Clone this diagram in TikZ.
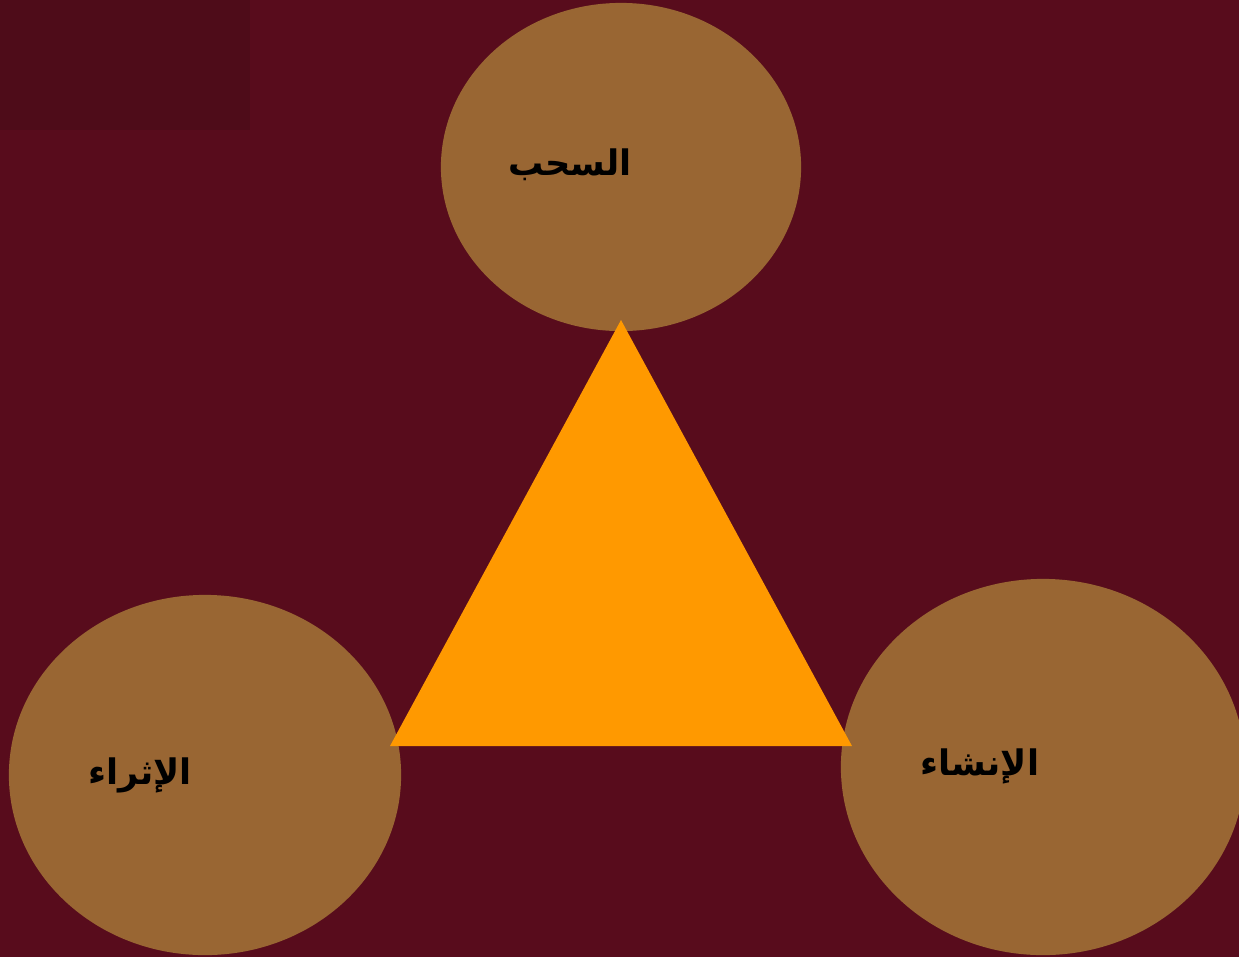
\documentclass[tikz,border=0pt]{standalone}
\usepackage{fontspec}
\newfontfamily\arabicfont[Script=Arabic]{DejaVu Sans}
\TeXXeTstate=1
\definecolor{bgred}{RGB}{88,12,28}
\definecolor{bgdark}{RGB}{60,14,22}
\definecolor{ovalbrown}{RGB}{153,102,51}
\definecolor{triorange}{RGB}{255,153,0}
\usetikzlibrary{shapes.geometric}

\begin{document}
\begin{tikzpicture}[
  x=0.01cm,y=-0.01cm,
  oval/.style={ellipse,fill=ovalbrown,inner sep=0pt},
  word/.style={font=\arabicfont\bfseries\fontsize{10}{12}\selectfont,text=black},
]
  % Background
  \fill[bgred] (0,0) rectangle (1239,957);
  \fill[bgdark,opacity=0.35] (0,0) rectangle (250,130);
  \useasboundingbox (0,0) rectangle (1239,957);

  % Ovals
  \node[oval,minimum width=3.6cm,minimum height=3.28cm] (sahb) at (621,167) {};
  \node[oval,minimum width=3.92cm,minimum height=3.6cm] (ithraa) at (205,775) {};
  \node[oval,minimum width=4.04cm,minimum height=3.76cm] (inshaa) at (1043,767) {};

  % Triangle
  \coordinate (apex) at (621,320);
  \coordinate (baseL) at (390,746);
  \coordinate (baseR) at (852,746);
  \fill[triorange] (apex) -- (baseR) -- (baseL) -- cycle;

  % Labels
  \node[word] (sahbtext) at (570,165) {\beginR السحب\endR};
  \node[word] (ithraatext) at (140,775) {\beginR الإثراء\endR};
  \node[word] (inshaatext) at (980,766) {\beginR الإنشاء\endR};
\end{tikzpicture}
\end{document}
